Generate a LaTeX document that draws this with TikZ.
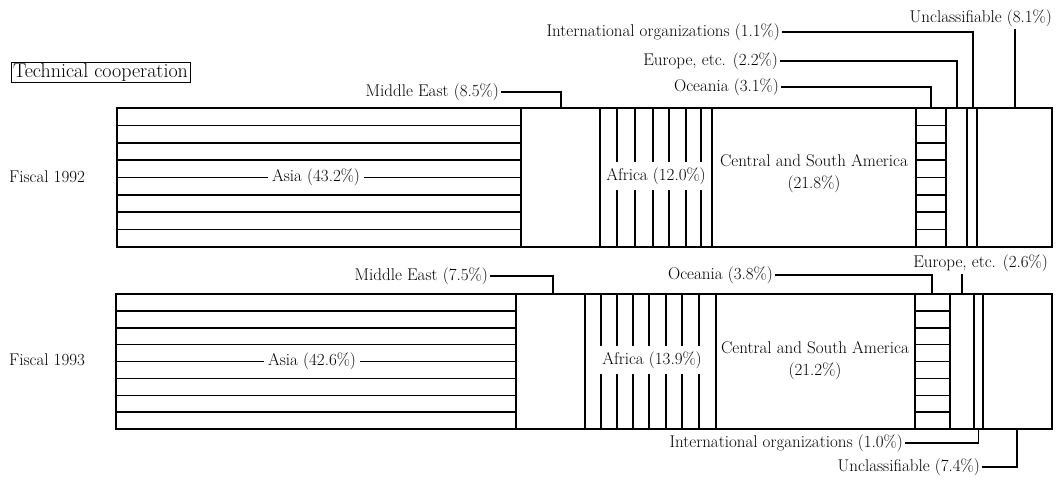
\documentclass[tikz,border=0pt]{standalone}
\usepackage{fontspec}
\begin{document}
\begin{tikzpicture}[x = 1pt, y = -1pt,
  every node/.style = {font = \fontsize{17}{22}\selectfont},
  barline/.style = {line width = 2.6pt},
  hatch/.style = {line width = 1.4pt},
  leader/.style = {line width = 1.1pt},
  tag/.style = {inner sep = 2pt},
  inlabel/.style = {fill = white, inner xsep = 4pt, inner ysep = 6pt}]
\useasboundingbox (0,0) rectangle (1058,489);
\node[draw, line width = 0.8pt, inner xsep = 2pt, inner ysep = 1pt, font = \fontsize{20}{22}\selectfont]
  at (100.5,72.5) (tc) {Technical cooperation};
\node at (47,177) (f92) {Fiscal 1992};
\node at (47,360) (f93) {Fiscal 1993};
% fiscal 1992
\draw[hatch] (117,125.5) -- (521,125.5) (117,143) -- (521,143) (117,160) -- (521,160)
  (117,177.5) -- (521,177.5) (117,195) -- (521,195) (117,212) -- (521,212) (117,229.5) -- (521,229.5);
\draw[hatch] (916,125.5) -- (946,125.5) (916,143) -- (946,143) (916,160) -- (946,160)
  (916,177.5) -- (946,177.5) (916,195) -- (946,195) (916,212) -- (946,212) (916,229.5) -- (946,229.5);
\draw[hatch] (617,108) -- (617,247) (635,108) -- (635,247) (653,108) -- (653,247)
  (669,108) -- (669,247) (686,108) -- (686,247) (701,108) -- (701,247);
\node[inlabel] at (316,177.5) (asia1) {Asia (43.2\%)};
\node[inlabel, inner xsep = 2pt] at (656,176) (afr1) {Africa (12.0\%)};
\node[align = center] at (814,174) (csa1) {Central and South America\\(21.8\%)};
\draw[barline] (117,108) rectangle (1052,247);
\draw[barline] (521,108) -- (521,247) (600,108) -- (600,247) (712,108) -- (712,247) (916,108) -- (916,247)
  (946,108) -- (946,247) (967,108) -- (967,247) (977,108) -- (977,247);
\coordinate (me1) at (561,108);
\coordinate (oc1) at (931,108);
\coordinate (eu1) at (957,108);
\coordinate (io1) at (973,108);
\coordinate (un1) at (1015,108);
\node[tag, anchor = east] at (501,92) (lme1) {Middle East (8.5\%)};
\node[tag, anchor = east] at (781,87) (loc1) {Oceania (3.1\%)};
\node[tag, anchor = east] at (780,61) (leu1) {Europe, etc. (2.2\%)};
\node[tag, anchor = east] at (782,32) (lio1) {International organizations (1.1\%)};
\node[tag, anchor = east] at (1054,18) (lun1) {Unclassifiable (8.1\%)};
\draw[leader] (lme1.east) -| (me1);
\draw[leader] (loc1.east) -| (oc1);
\draw[leader] (leu1.east) -| (eu1);
\draw[leader] (lio1.east) -| (io1);
\draw[leader] (un1) -- (un1 |- lun1.south);
% fiscal 1993
\draw[hatch] (116,311) -- (516,311) (116,328) -- (516,328) (116,344.5) -- (516,344.5)
  (116,361.5) -- (516,361.5) (116,378.5) -- (516,378.5) (116,395.5) -- (516,395.5) (116,412) -- (516,412);
\draw[hatch] (915,311) -- (950,311) (915,328) -- (950,328) (915,344.5) -- (950,344.5)
  (915,361.5) -- (950,361.5) (915,378.5) -- (950,378.5) (915,395.5) -- (950,395.5) (915,412) -- (950,412);
\draw[hatch] (601,294) -- (601,429) (617,294) -- (617,429) (633,294) -- (633,429) (649,294) -- (649,429)
  (666,294) -- (666,429) (682,294) -- (682,429) (699,294) -- (699,429);
\node[inlabel] at (312,361.5) (asia2) {Asia (42.6\%)};
\node[inlabel, inner xsep = 2pt] at (652,360) (afr2) {Africa (13.9\%)};
\node[align = center] at (815,361) (csa2) {Central and South America\\(21.2\%)};
\draw[barline] (116,294) rectangle (1052,429);
\draw[barline] (516,294) -- (516,429) (585,294) -- (585,429) (716,294) -- (716,429) (915,294) -- (915,429)
  (950,294) -- (950,429) (974,294) -- (974,429) (983,294) -- (983,429);
\coordinate (me2) at (553,294);
\coordinate (oc2) at (932,294);
\coordinate (eu2) at (962,294);
\coordinate (io2) at (978.5,429);
\coordinate (un2) at (1017,429);
\node[tag, anchor = east] at (490,276) (lme2) {Middle East (7.5\%)};
\node[tag, anchor = east] at (775,275) (loc2) {Oceania (3.8\%)};
\node[tag, anchor = east] at (1050,263) (leu2) {Europe, etc. (2.6\%)};
\node[tag, anchor = east] at (905,443) (lio2) {International organizations (1.0\%)};
\node[tag, anchor = east] at (982,467) (lun2) {Unclassifiable (7.4\%)};
\draw[leader] (lme2.east) -| (me2);
\draw[leader] (loc2.east) -| (oc2);
\draw[leader] (eu2) -- (eu2 |- leu2.south);
\draw[leader] (lio2.east) -| (io2);
\draw[leader] (lun2.east) -| (un2);
\end{tikzpicture}
\end{document}
